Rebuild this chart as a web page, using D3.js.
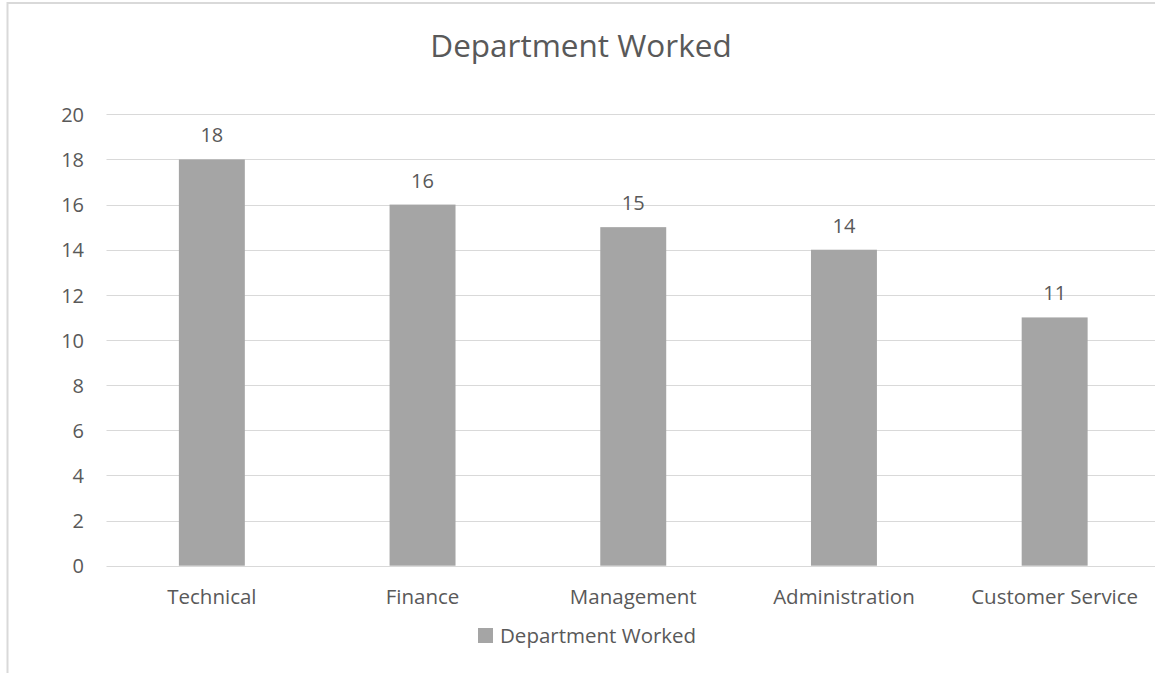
<!DOCTYPE html>
<html>
<head>
<meta charset="utf-8">
<script src="https://cdn.jsdelivr.net/npm/d3@7"></script>
<style>
  html, body { margin: 0; padding: 0; background: #ffffff; overflow: hidden; }
  svg { display: block; font-family: "Open Sans", "Noto Sans", sans-serif; }
</style>
</head>
<body>
<svg id="chart" width="1155" height="673"></svg>
<script>
// Department counts
const categories = ["Technical", "Finance", "Management", "Administration", "Customer Service"];
const values = [18, 16, 15, 14, 11];
const seriesName = "Department Worked";
const yTicks = [0, 2, 4, 6, 8, 10, 12, 14, 16, 18, 20];

const W = 1155, H = 673;
const svg = d3.select("#chart");

const textColor = "#595959";
const gridColor = "#d9d9d9";
const barColor = "#a5a5a5";

// chart area frame (extends past the right and bottom edges)
svg.append("rect")
  .attr("x", 7.5).attr("y", 3)
  .attr("width", W + 20).attr("height", H + 20)
  .attr("fill", "none")
  .attr("stroke", "#d9d9d9")
  .attr("stroke-width", 2);

const plot = { left: 106.5, right: 1160, top: 114.3, bottom: 565.7 };

const x = d3.scaleBand()
  .domain(categories)
  .range([plot.left, plot.right])
  .paddingInner(0.687)
  .paddingOuter(0.3435);

const y = d3.scaleLinear()
  .domain([0, 20])
  .range([plot.bottom, plot.top]);

// horizontal gridlines
svg.append("g")
  .selectAll("line")
  .data(yTicks)
  .join("line")
  .attr("x1", plot.left)
  .attr("x2", W)
  .attr("y1", d => Math.round(y(d)) + 0.5)
  .attr("y2", d => Math.round(y(d)) + 0.5)
  .attr("stroke", gridColor)
  .attr("stroke-width", 1);

// y axis labels
const yAxis = d3.axisLeft(y).tickValues(yTicks).tickSize(0).tickPadding(0);
const yg = svg.append("g")
  .attr("transform", `translate(${84},0)`)
  .call(yAxis);
yg.select(".domain").remove();
yg.selectAll("text")
  .attr("fill", textColor)
  .attr("font-size", 20)
  .attr("font-family", "'Open Sans', sans-serif")
  .attr("dy", "0.36em");

// bars
svg.append("g")
  .selectAll("rect")
  .data(values)
  .join("rect")
  .attr("x", (d, i) => x(categories[i]))
  .attr("y", d => y(d))
  .attr("width", x.bandwidth())
  .attr("height", d => y(0) - y(d))
  .attr("fill", barColor);

// value labels
svg.append("g")
  .selectAll("text")
  .data(values)
  .join("text")
  .attr("x", (d, i) => x(categories[i]) + x.bandwidth() / 2)
  .attr("y", d => y(d) - 17)
  .attr("text-anchor", "middle")
  .attr("fill", textColor)
  .attr("font-size", 20)
  .text(d => d);

// category axis labels
const xAxis = d3.axisBottom(x).tickSize(0).tickPadding(0);
const xg = svg.append("g")
  .attr("transform", `translate(0,${plot.bottom})`)
  .call(xAxis);
xg.select(".domain").remove();
xg.selectAll("text")
  .attr("fill", textColor)
  .attr("font-size", 20.5)
  .attr("font-family", "'Open Sans', sans-serif")
  .attr("dy", 0)
  .attr("y", 38);

// title
svg.append("text")
  .attr("x", 581)
  .attr("y", 57)
  .attr("text-anchor", "middle")
  .attr("fill", textColor)
  .attr("font-size", 31.5)
  .text(seriesName);

// legend
const legend = svg.append("g").attr("transform", "translate(478,628)");
legend.append("rect")
  .attr("x", 0).attr("y", 0)
  .attr("width", 15).attr("height", 15)
  .attr("fill", barColor);
legend.append("text")
  .attr("x", 22)
  .attr("y", 15)
  .attr("fill", textColor)
  .attr("font-size", 20.5)
  .text(seriesName);
</script>
</body>
</html>
